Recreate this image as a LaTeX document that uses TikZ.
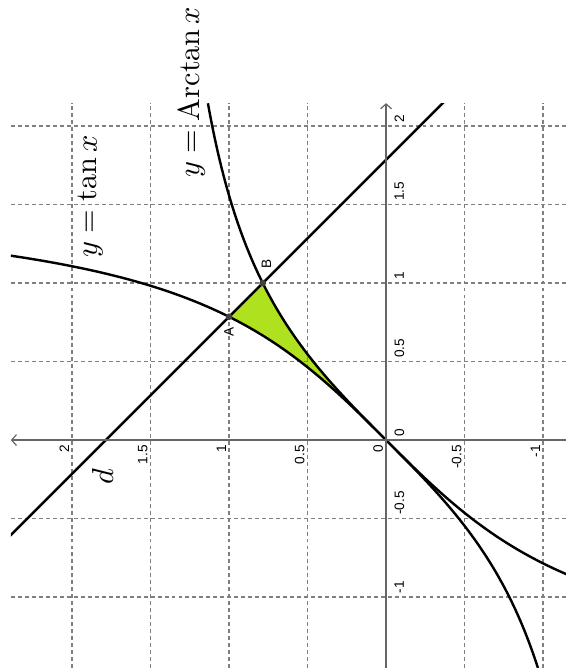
\documentclass[tikz,border=0pt]{standalone}
\usepackage{amsmath}
\usepackage{fontspec}
\newfontfamily\ticksans{Liberation Sans}
\usetikzlibrary{arrows.meta, calc}
\definecolor{aire}{RGB}{175,225,30}

\begin{document}
\begin{tikzpicture}[x={(0cm,1.82cm)}, y={(-1.82cm,0cm)}]
        \tikzset{gridline/.style={gray, line width=0.4pt, dash pattern=on 1.3pt off 1pt}}
        \tikzset{axisline/.style={gray!80!black, line width=0.4pt, -{Straight Barb[length=1.6pt,width=3.6pt]}}}
        \tikzset{curve/.style={black, line width=0.8pt}}
        \tikzset{ticklabel/.style={rotate=90, inner sep=0pt, font=\ticksans\fontsize{4.5}{5}\selectfont}}
        \tikzset{eqlabel/.style={rotate=90, inner sep=0pt, anchor=base west}}

        \useasboundingbox (-1.452,-1.146) rectangle (2.803,2.459);

        \coordinate (O) at (0,0);
        \coordinate (A) at ({pi/4},1);
        \coordinate (B) at (1,{pi/4});

        \begin{scope}
            \clip (-1.452,-1.146) rectangle (2.146,2.39);
            \fill[aire] plot[domain=0:pi/4, samples=40] (\x,{tan(\x r)}) -- (B)
                -- plot[domain=1:0, samples=40] (\x,{rad(atan(\x))}) -- cycle;

            \foreach \v in {-1,-0.5,0.5,1,1.5,2} {
                \draw[gridline] (\v,-1.146) -- (\v,2.39);
                \draw[gridline] (-1.452,\v) -- (2.146,\v);
            }

            \draw[curve] plot[domain=-0.87:1.18, samples=120] (\x,{tan(\x r)});
            \draw[curve] plot[domain=-1.452:2.146, samples=120] (\x,{rad(atan(\x))});
            \draw[curve] ($(A)!-7!(B)$) -- ($(A)!8!(B)$);
        \end{scope}

        \draw[axisline] (-1.452,0) -- (2.146,0);
        \draw[axisline] (0,-1.146) -- (0,2.39);

        \foreach \v [count=\i] in {-1,-0.5,0,0.5,1,1.5,2} {
            \node[ticklabel, anchor=north west] (xtick\i) at (\v+0.02,-0.05) {\v};
            \node[ticklabel, anchor=south east] (ytick\i) at (-0.03,\v+0.015) {\v};
        }

        \filldraw[darkgray] (A) circle (0.9pt);
        \filldraw[darkgray] (B) circle (0.9pt);
        \node[ticklabel, anchor=east] (labA) at ($(A)+(-0.063,0)$) {A};
        \node[ticklabel, anchor=north west] (labB) at ($(B)+(0.09,0.01)$) {B};

        \node[eqlabel] (tanlab) at (1.159,1.842) {$y=\tan x$};
        \node[eqlabel] (arctanlab) at (1.669,1.19) {$y=\operatorname{Arctan} x$};
        \node[eqlabel] (dlab) at (-0.287,1.739) {$d$};
    \end{tikzpicture}
\end{document}
